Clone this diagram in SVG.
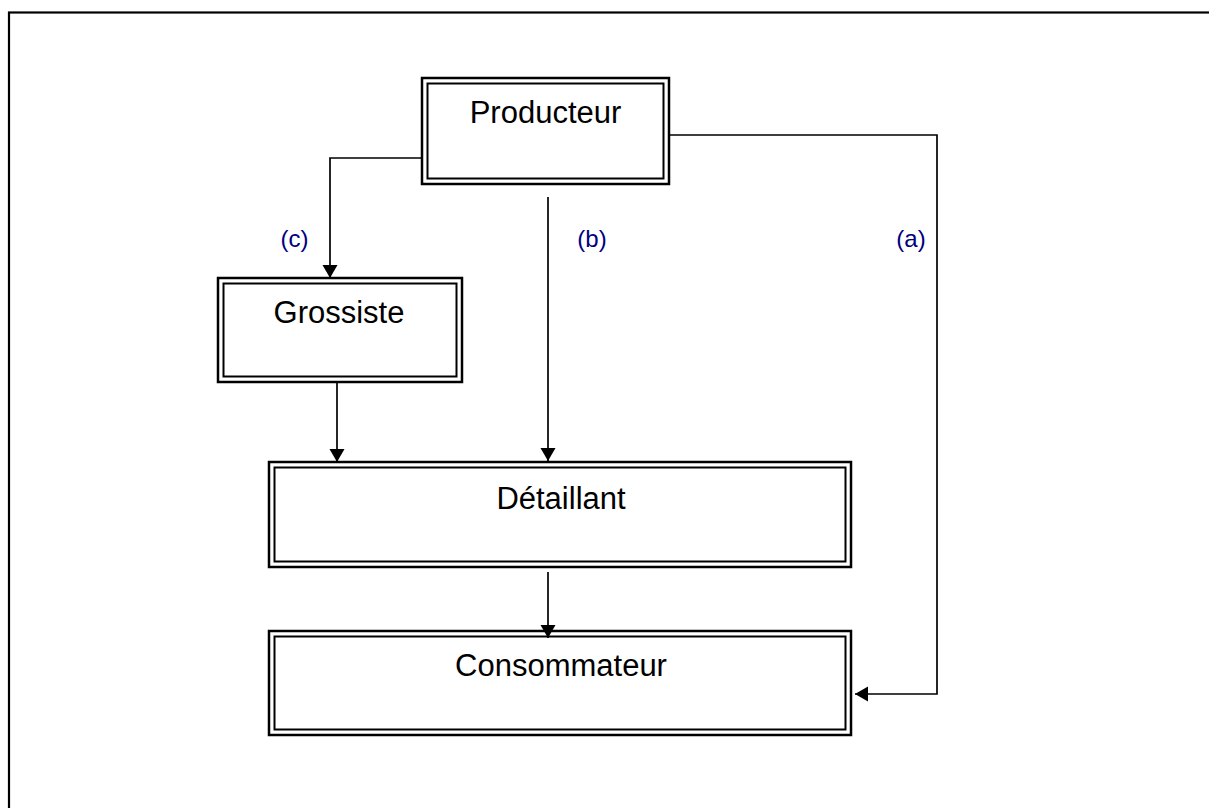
<svg xmlns="http://www.w3.org/2000/svg" width="1209" height="808" viewBox="0 0 1209 808">
<style>
.o{fill:#fff;stroke:#000;stroke-width:2.5}
.i{fill:none;stroke:#000;stroke-width:2}
.t{font-family:"Liberation Sans",Arial,sans-serif;font-size:31px;fill:#000;text-anchor:middle}
.l{font-family:"Liberation Sans",Arial,sans-serif;font-size:24px;fill:#000080;text-anchor:middle}
.c{fill:none;stroke:#000;stroke-width:1.7}
</style>
<defs>
<marker id="ah" markerUnits="userSpaceOnUse" markerWidth="16" markerHeight="16" viewBox="0 0 16 16" refX="14" refY="8" orient="auto">
<path d="M1,0.5 L14,8 L1,15.5 Z" fill="#000"/>
</marker>
</defs>
<rect width="1209" height="808" fill="#fff"/>
<rect x="9" y="12.5" width="1300" height="900" fill="none" stroke="#000" stroke-width="2.2"/>
<g id="producteur">
<rect class="o" x="422" y="78" width="247" height="106"/>
<rect class="i" x="427.5" y="83.5" width="236" height="95"/>
<text class="t" x="545.5" y="123">Producteur</text>
</g>
<g id="grossiste">
<rect class="o" x="218" y="278" width="244" height="104"/>
<rect class="i" x="223.5" y="283.5" width="233" height="93"/>
<text class="t" x="339" y="323">Grossiste</text>
</g>
<g id="detaillant">
<rect class="o" x="269" y="462" width="582" height="105"/>
<rect class="i" x="274.5" y="467.5" width="571" height="94"/>
<text class="t" x="561" y="509">Détaillant</text>
</g>
<g id="consommateur">
<rect class="o" x="269" y="631" width="582" height="104"/>
<rect class="i" x="274.5" y="636.5" width="571" height="93"/>
<text class="t" x="561" y="676">Consommateur</text>
</g>
<g id="connectors">
<polyline class="c" points="421,158 330,158 330,278" marker-end="url(#ah)"/>
<line class="c" x1="548" y1="197" x2="548" y2="461" marker-end="url(#ah)"/>
<line class="c" x1="337" y1="383" x2="337" y2="462" marker-end="url(#ah)"/>
<line class="c" x1="548" y1="572" x2="548" y2="638" marker-end="url(#ah)"/>
<polyline class="c" points="670,135 937,135 937,694 855,694" marker-end="url(#ah)"/>
<text class="l" x="294.5" y="247">(c)</text>
<text class="l" x="592" y="247">(b)</text>
<text class="l" x="911" y="247">(a)</text>
</g>
</svg>
